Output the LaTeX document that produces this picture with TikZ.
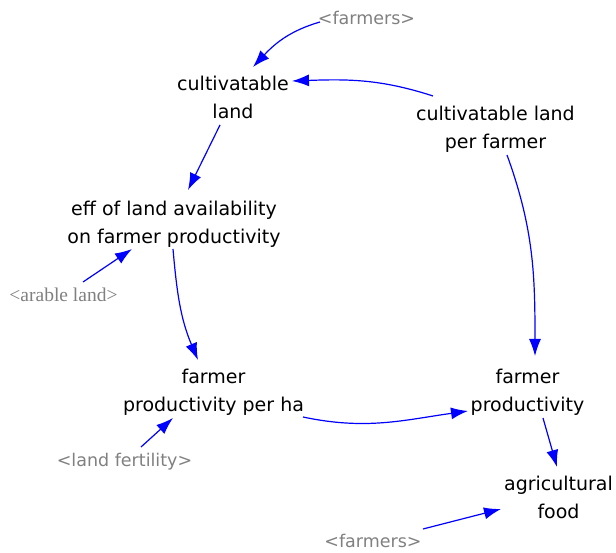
\documentclass[tikz,border=0pt]{standalone}
\usepackage{fontspec}
\setmainfont{DejaVu Sans}
\newfontfamily\grayserif{Liberation Serif}
\usetikzlibrary{arrows.meta}
\definecolor{linkblue}{RGB}{0,0,255}
\definecolor{shadowgray}{RGB}{128,128,128}
\tikzset{
  var/.style={font=\fontsize{19}{28}\selectfont, align=center, inner sep=0pt, text=black},
  shadowvar/.style={font=\fontsize{17.5}{24}\selectfont, inner sep=0pt, text=shadowgray, anchor=base},
  shadowserif/.style={font=\grayserif\fontsize{19.5}{24}\selectfont, inner sep=0pt, text=shadowgray, anchor=base},
  link/.style={draw=linkblue, line width=1.2pt, -{Latex[length=17pt,width=12pt]}}
}
\begin{document}
\begin{tikzpicture}[x=1pt,y=1pt]
\useasboundingbox (0,0) rectangle (616,552);
\node[shadowvar] (farmersT) at (366.5,527) {<farmers>};
\node[var] (cl) at (233,453) {\strut cultivatable\\\strut land};
\node[var] (clpf) at (495.5,423.3) {\strut cultivatable land\\\strut per farmer};
\node[var] (eff) at (174,328.3) {\strut eff of land availability\\\strut on farmer productivity};
\node[shadowserif] (arable) at (63.5,250) {<arable land>};
\node[var] (fpph) at (213.5,160.3) {\strut farmer\\\strut productivity per ha};
\node[var] (fp) at (527.5,160.3) {\strut farmer\\\strut productivity};
\node[shadowvar] (landfert) at (124.5,85) {<land fertility>};
\node[var] (agfood) at (558.5,53) {\strut agricultural\\\strut food};
\node[shadowvar] (farmersB) at (373,4.5) {<farmers>};

\draw[link] ([shift={(-46.5,3)}]farmersT.base) to[out=196,in=47] ([shift={(20,32)}]cl.center);
\draw[link] ([shift={(-62.5,32.7)}]clpf.center) to[out=162,in=2] ([shift={(59,18)}]cl.center);
\draw[link] ([shift={(-13,-26)}]cl.center) -- ([shift={(14,33.7)}]eff.center);
\draw[link] ([shift={(19.5,20)}]arable.base) -- ([shift={(-42,-25.3)}]eff.center);
\draw[link] ([shift={(-1,-25.3)}]eff.center) to[out=-85,in=113] ([shift={(-15.5,31.7)}]fpph.center);
\draw[link] ([shift={(11.5,-26.3)}]clpf.center) to[out=-70,in=90] ([shift={(7.5,35.7)}]fp.center);
\draw[link] ([shift={(89.5,-25.3)}]fpph.center) to[out=-12,in=188] ([shift={(-59.5,-19.3)}]fp.center);
\draw[link] ([shift={(16.5,20)}]landfert.base) -- ([shift={(-40.5,-26.3)}]fpph.center);
\draw[link] ([shift={(15.5,-26.3)}]fp.center) -- ([shift={(-1.5,32)}]agfood.center);
\draw[link] ([shift={(50,18.5)}]farmersB.base) -- ([shift={(-57.5,-10)}]agfood.center);
\end{tikzpicture}
\end{document}
